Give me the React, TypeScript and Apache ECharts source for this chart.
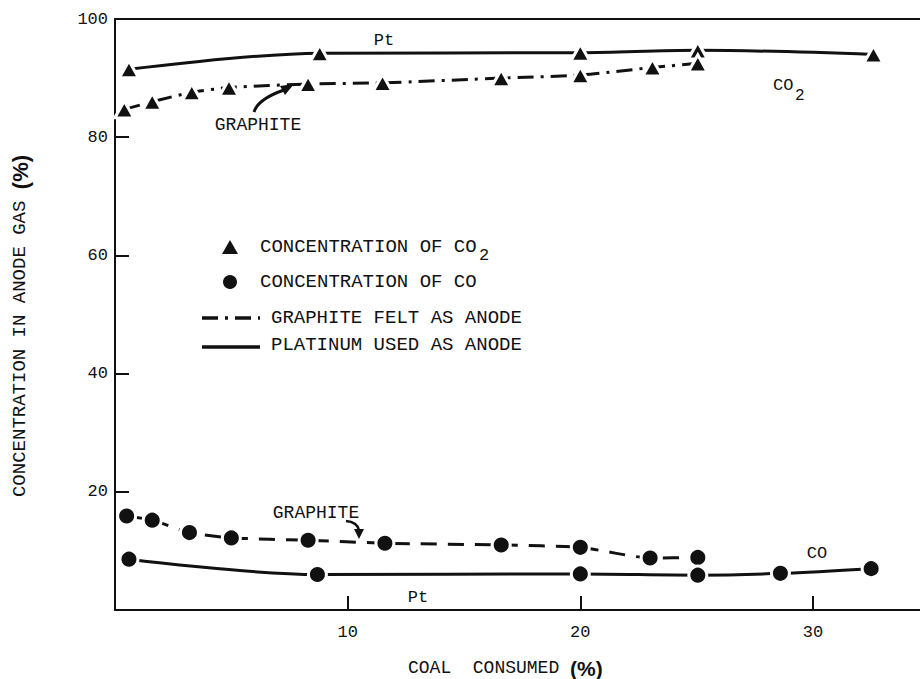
import React, { useEffect, useRef } from "react";
import * as echarts from "echarts";

// CO2 concentration, platinum anode [coal consumed %, concentration %]
const co2Platinum: number[][] = [
  [0.6, 91.5], [8.8, 94.2], [20.0, 94.3], [25.05, 94.7], [32.6, 94.0],
];
// CO2 concentration, graphite felt anode
const co2Graphite: number[][] = [
  [0.4, 84.7], [1.6, 86.0], [3.3, 87.6], [4.9, 88.4], [8.3, 89.0],
  [11.5, 89.2], [16.6, 90.0], [20.0, 90.5], [23.1, 91.8], [25.05, 92.5],
];
// CO concentration, graphite felt anode
const coGraphite: number[][] = [
  [0.5, 15.9], [1.6, 15.2], [3.2, 13.1], [5.0, 12.2], [8.3, 11.8],
  [11.6, 11.3], [16.6, 11.0], [20.0, 10.6], [23.0, 8.8], [25.05, 8.9],
];
// CO concentration, platinum anode
const coPlatinum: number[][] = [
  [0.6, 8.6], [8.7, 6.0], [20.0, 6.1], [25.05, 5.9], [28.6, 6.2], [32.5, 7.0],
];

const xTicks = [10, 20, 30];
const yTicks = [20, 40, 60, 80, 100];

const MONO = "'Liberation Mono', 'DejaVu Sans Mono', monospace";
const SANS = "'Liberation Sans', Arial, sans-serif";
const INK = "#111";

export default function App() {
  const ref = useRef<HTMLDivElement>(null);

  useEffect(() => {
    if (!ref.current) return;
    const chart = echarts.init(ref.current, undefined, { renderer: "svg" });

    const lineBase = {
      type: "line" as const,
      smooth: 0.35,
      symbolKeepAspect: true,
      itemStyle: { color: INK, borderColor: "#fff", borderWidth: 3 },
      z: 3,
    };

    const txt = (x: number, y: number, text: string, size = 18, align = "left") => ({
      type: "text",
      x,
      y,
      style: {
        text,
        font: `${size}px ${MONO}`,
        fill: INK,
        textAlign: align,
        textVerticalAlign: "middle",
      },
    });

    const option: any = {
      animation: false,
      backgroundColor: "#fff",
      grid: { left: 115, right: 0, top: 19, bottom: 69 },
      xAxis: [
        {
          type: "value",
          min: 0,
          max: 34.6,
          interval: 10,
          axisLine: { show: true, lineStyle: { color: INK, width: 2 } },
          axisTick: { show: true, inside: true, length: 14, lineStyle: { color: INK, width: 2 } },
          axisLabel: {
            showMinLabel: false,
            showMaxLabel: false,
            margin: 14,
            fontFamily: MONO,
            fontSize: 17,
            color: INK,
            formatter: (v: number) => (xTicks.includes(v) ? String(v) : ""),
          },
          splitLine: { show: false },
        },
        {
          type: "value",
          position: "top",
          min: 0,
          max: 34.6,
          axisLine: { show: true, onZero: false, lineStyle: { color: INK, width: 2 } },
          axisTick: { show: false },
          axisLabel: { show: false },
          splitLine: { show: false },
        },
      ],
      yAxis: {
        type: "value",
        min: 0,
        max: 100,
        interval: 20,
        axisLine: { show: true, lineStyle: { color: INK, width: 2 } },
        axisTick: { show: true, inside: true, length: 14, lineStyle: { color: INK, width: 2 } },
        axisLabel: {
          showMinLabel: false,
          margin: 7,
          fontFamily: MONO,
          fontSize: 17,
          color: INK,
          formatter: (v: number) => (yTicks.includes(v) ? String(v) : ""),
        },
        splitLine: { show: false },
      },
      series: [
        {
          ...lineBase,
          name: "CO2 Pt",
          data: co2Platinum,
          symbol: "triangle",
          symbolSize: [19, 17],
          lineStyle: { color: INK, width: 3, type: "solid" },
        },
        {
          ...lineBase,
          name: "CO2 graphite",
          data: co2Graphite,
          smooth: 0.2,
          symbol: "triangle",
          symbolSize: [19, 17],
          lineStyle: { color: INK, width: 3, type: [16, 7, 3, 7] },
        },
        {
          ...lineBase,
          name: "CO graphite",
          data: coGraphite,
          smooth: 0.2,
          symbol: "circle",
          symbolSize: 18,
          lineStyle: { color: INK, width: 3, type: [16, 11] },
        },
        {
          ...lineBase,
          name: "CO Pt",
          data: coPlatinum,
          symbol: "circle",
          symbolSize: 18,
          lineStyle: { color: INK, width: 3, type: "solid" },
        },
      ],
      graphic: [
        // axis titles
        {
          type: "text",
          x: 20,
          y: 326,
          rotation: Math.PI / 2,
          style: {
            text: "{m|CONCENTRATION IN ANODE GAS }{p|(%)}",
            textAlign: "center",
            textVerticalAlign: "middle",
            fill: INK,
            rich: {
              m: { font: `19px ${MONO}`, fill: INK },
              p: { font: `bold 22px ${SANS}`, fill: INK },
            },
          },
        },
        {
          type: "text",
          x: 408,
          y: 668,
          style: {
            text: "{m|COAL  CONSUMED }{p|(%)}",
            textAlign: "left",
            textVerticalAlign: "middle",
            fill: INK,
            rich: {
              m: { font: `18px ${MONO}`, fill: INK },
              p: { font: `bold 21px ${SANS}`, fill: INK },
            },
          },
        },
        // annotations
        txt(384, 40, "Pt", 17, "center"),
        txt(773, 85, "CO", 17),
        txt(795, 96, "2", 16),
        txt(258, 125, "GRAPHITE", 18, "center"),
        {
          type: "bezierCurve",
          shape: { x1: 254, y1: 112, cpx1: 258, cpy1: 99, x2: 284, y2: 90 },
          style: { stroke: INK, lineWidth: 3, fill: null },
        },
        {
          type: "polygon",
          shape: { points: [[294, 84], [285, 95], [280, 86]] },
          style: { fill: INK },
        },
        txt(316, 513, "GRAPHITE", 18, "center"),
        {
          type: "bezierCurve",
          shape: { x1: 346, y1: 521, cpx1: 357, cpy1: 522, x2: 359, y2: 530 },
          style: { stroke: INK, lineWidth: 2.5, fill: null },
        },
        {
          type: "polygon",
          shape: { points: [[359, 539], [354, 529], [364, 529]] },
          style: { fill: INK },
        },
        txt(418, 597, "Pt", 17, "center"),
        txt(817, 553, "CO", 17, "center"),
        // legend
        {
          type: "polygon",
          shape: { points: [[230, 240], [222, 254], [238, 254]] },
          style: { fill: INK },
        },
        txt(260, 247, "CONCENTRATION OF CO", 19),
        txt(479, 255, "2", 17),
        {
          type: "circle",
          shape: { cx: 230, cy: 282, r: 7 },
          style: { fill: INK },
        },
        txt(260, 282, "CONCENTRATION OF CO", 19),
        {
          type: "line",
          shape: { x1: 202, y1: 318, x2: 260, y2: 318 },
          style: { stroke: INK, lineWidth: 3.5, lineDash: [16, 7, 3, 7] },
        },
        txt(271, 318, "GRAPHITE FELT AS ANODE", 19),
        {
          type: "line",
          shape: { x1: 202, y1: 347, x2: 260, y2: 347 },
          style: { stroke: INK, lineWidth: 3.5 },
        },
        txt(271, 345, "PLATINUM USED AS ANODE", 19),
      ],
    };

    chart.setOption(option);
    return () => chart.dispose();
  }, []);

  return (
    <div
      ref={ref}
      style={{ position: "fixed", left: 0, top: 0, width: 920, height: 679, background: "#fff" }}
    />
  );
}
